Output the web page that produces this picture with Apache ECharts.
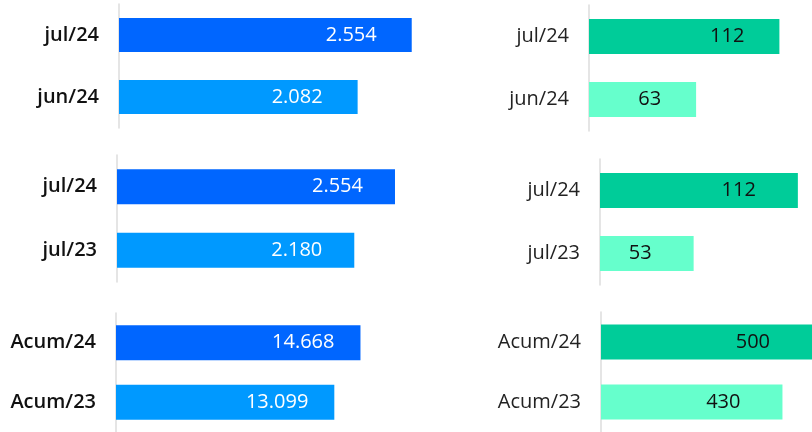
<!DOCTYPE html>
<html>
<head>
<meta charset="utf-8">
<script src="https://cdn.jsdelivr.net/npm/echarts@6/dist/echarts.min.js"></script>
<style>
  html, body { margin: 0; padding: 0; background: #fff; }
  #chart { width: 812px; height: 432px; }
</style>
</head>
<body>
<div id="chart"></div>
<script>
// categories
const catsMonth = ['jul/24', 'jun/24'];
const catsYear = ['jul/24', 'jul/23'];
const catsAcum = ['Acum/24', 'Acum/23'];

// values (left = blue, right = green)
const blueMonth = [2554, 2082];
const greenMonth = [112, 63];
const blueYear = [2554, 2180];
const greenYear = [112, 53];
const blueAcum = [14668, 13099];
const greenAcum = [500, 430];

const BLUE = ['#0066FF', '#0099FF'];
const GREEN = ['#00CC99', '#66FFCC'];

const fmt = (v) => String(v).replace(/\B(?=(\d{3})+(?!\d))/g, '.');

// one entry per small chart
const panels = [
  { cats: catsMonth, values: blueMonth, colors: BLUE, left: 119, top: 4, height: 124, width: 298, max: 2600, barW: 34, side: 'L', dist: 35 },
  { cats: catsMonth, values: greenMonth, colors: GREEN, left: 589, top: 5, height: 126, width: 204, max: 120, barW: 35, side: 'R', dist: 35 },
  { cats: catsYear, values: blueYear, colors: BLUE, left: 117, top: 155, height: 127, width: 283, max: 2600, barW: 35, side: 'L', dist: 32 },
  { cats: catsYear, values: greenYear, colors: GREEN, left: 600, top: 159, height: 126, width: 215, max: 120, barW: 35, side: 'R', dist: 42 },
  { cats: catsAcum, values: blueAcum, colors: BLUE, left: 116, top: 313, height: 127, width: 250, max: 15000, barW: 35, side: 'L', dist: 26 },
  { cats: catsAcum, values: greenAcum, colors: GREEN, left: 601, top: 312, height: 128, width: 221, max: 500, barW: 35, side: 'R', dist: 42 }
];

const font = "'Open Sans', 'Noto Sans', sans-serif";

const option = {
  animation: false,
  backgroundColor: '#fff',
  grid: panels.map(p => ({ left: p.left, top: p.top, width: p.width, height: p.height, containLabel: false })),
  xAxis: panels.map((p, i) => ({
    type: 'value', gridIndex: i, min: 0, max: p.max, show: false
  })),
  yAxis: panels.map((p, i) => ({
    type: 'category', gridIndex: i, data: p.cats, inverse: true,
    axisLine: { show: true, lineStyle: { color: '#dcdcdc', width: 1.5 } },
    axisTick: { show: false },
    splitLine: { show: false },
    axisLabel: {
      margin: 20,
      fontSize: 20,
      fontFamily: font,
      fontWeight: p.side === 'L' ? 600 : 'normal',
      color: p.side === 'L' ? '#111' : '#222'
    }
  })),
  series: panels.map((p, i) => ({
    type: 'bar', xAxisIndex: i, yAxisIndex: i,
    data: p.values,
    barWidth: p.barW,
    itemStyle: { color: (params) => p.colors[params.dataIndex] },
    label: {
      show: true,
      position: 'insideRight',
      distance: p.dist,
      fontSize: 20,
      fontFamily: font,
      color: p.side === 'L' ? '#fff' : '#111',
      formatter: (params) => fmt(params.value)
    }
  }))
};

const chart = echarts.init(document.getElementById('chart'), null, { renderer: 'canvas' });
chart.setOption(option);
</script>
</body>
</html>
